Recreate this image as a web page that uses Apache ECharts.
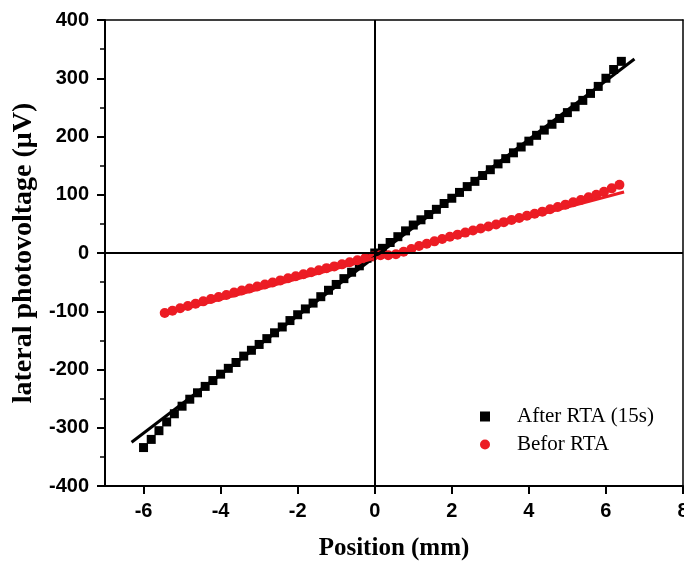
<!DOCTYPE html>
<html>
<head>
<meta charset="utf-8">
<script src="https://cdn.jsdelivr.net/npm/echarts@6/dist/echarts.min.js"></script>
<style>
  html, body { margin: 0; padding: 0; background: #fff; }
  #chart { width: 684px; height: 563px; }
</style>
</head>
<body>
<div id="chart"></div>
<script>
// After RTA (15s): positions (mm) and voltages (uV)
var afterX = [-6.0, -5.8, -5.6, -5.4, -5.2, -5.0, -4.8, -4.6, -4.4, -4.2, -4.0, -3.8, -3.6, -3.4, -3.2, -3.0,
              -2.8, -2.6, -2.4, -2.2, -2.0, -1.8, -1.6, -1.4, -1.2, -1.0, -0.8, -0.6, -0.4, -0.2, 0.0,
              0.2, 0.4, 0.6, 0.8, 1.0, 1.2, 1.4, 1.6, 1.8, 2.0, 2.2, 2.4, 2.6, 2.8, 3.0,
              3.2, 3.4, 3.6, 3.8, 4.0, 4.2, 4.4, 4.6, 4.8, 5.0, 5.2, 5.4, 5.6, 5.8, 6.0, 6.2, 6.4];
var afterY = [-334, -320, -305, -290, -276, -263, -251, -240, -229, -219, -208, -198, -188, -177, -167, -157,
              -147, -137, -127, -116, -106, -96, -86, -75, -64, -54, -44, -33, -22, -9, 0,
              8, 18, 28, 38, 48, 57, 66, 75, 85, 94, 104, 114, 123, 133, 143,
              153, 162, 172, 182, 192, 202, 211, 221, 231, 241, 251, 262, 274, 286, 300, 315, 329];

// Befor RTA
var beforX = [-5.45, -5.25, -5.05, -4.85, -4.65, -4.45, -4.25, -4.05, -3.85, -3.65, -3.45, -3.25, -3.05,
              -2.85, -2.65, -2.45, -2.25, -2.05, -1.85, -1.65, -1.45, -1.25, -1.05, -0.85, -0.65, -0.45,
              -0.25, -0.05, 0.15, 0.35, 0.55, 0.75, 0.95, 1.15, 1.35, 1.55, 1.75, 1.95, 2.15, 2.35,
              2.55, 2.75, 2.95, 3.15, 3.35, 3.55, 3.75, 3.95, 4.15, 4.35, 4.55, 4.75, 4.95, 5.15,
              5.35, 5.55, 5.75, 5.95, 6.15, 6.35];
var beforY = [-103, -99, -95, -91, -87, -83, -79, -75.5, -72, -68, -64.5, -61, -57.5,
              -54, -50.5, -47, -43.5, -40, -36.5, -33, -29.5, -26, -23, -19.5, -16, -12.5,
              -9, -6, -4, -4, -2, 2, 7, 12, 16, 20, 24, 28, 31.5, 35,
              38.5, 42, 45.5, 49, 53, 56.5, 60, 64, 67.5, 71, 75, 79, 83, 87,
              91, 95.5, 100, 105, 111, 117];

// linear fits (end points)
var fitAfterX = [-6.31, 6.74];
var fitAfterY = [-325, 333];
var fitBeforX = [-5.45, 6.47];
var fitBeforY = [-105, 104.6];

var xTicks = [-6, -4, -2, 0, 2, 4, 6, 8];

function pairs(xs, ys) {
    var out = [];
    for (var i = 0; i < xs.length; i++) out.push([xs[i], ys[i]]);
    return out;
}

var chart = echarts.init(document.getElementById('chart'), null, { renderer: 'canvas' });

var tickFont = { color: '#000', fontFamily: 'Liberation Sans', fontWeight: 'bold', fontSize: 20 };
var titleFont = { color: '#000', fontFamily: 'Liberation Serif', fontWeight: 'bold' };

var option = {
    backgroundColor: '#fff',
    animation: false,
    grid: { left: 105, right: 1, top: 20, bottom: 77, outerBoundsMode: 'none', containLabel: false },
    legend: {
        left: 475,
        top: 401,
        orient: 'vertical',
        itemGap: 7,
        itemWidth: 10,
        itemHeight: 10,
        textStyle: { fontFamily: 'Liberation Serif', fontSize: 21, color: '#000', padding: [0, 0, 0, 22] },
        data: [
            { name: 'After RTA (15s)', icon: 'rect' },
            { name: 'Befor RTA', icon: 'circle' }
        ]
    },
    xAxis: [{
        type: 'value',
        min: -7, max: 8, interval: 2,
        name: 'Position (mm)',
        nameLocation: 'middle',
        nameGap: 50,
        nameTextStyle: Object.assign({ fontSize: 25 }, titleFont),
        axisLine: { onZero: false, lineStyle: { color: '#000', width: 2 } },
        axisTick: { length: 8, lineStyle: { color: '#000', width: 2 }, customValues: xTicks },
        minorTick: { show: true, splitNumber: 2, length: 5, lineStyle: { color: '#000', width: 1.5 } },
        axisLabel: Object.assign({ margin: 15, customValues: xTicks }, tickFont),
        splitLine: { show: false }
    }, {
        type: 'value',
        position: 'top',
        min: -7, max: 8,
        axisLine: { onZero: false, lineStyle: { color: '#000', width: 1.5 } },
        axisTick: { show: false },
        axisLabel: { show: false },
        splitLine: { show: false }
    }],
    yAxis: [{
        type: 'value',
        min: -400, max: 400, interval: 100,
        name: 'lateral photovoltage (\u03bcV)',
        nameLocation: 'middle',
        nameGap: 59,
        nameTextStyle: Object.assign({ fontSize: 28 }, titleFont),
        axisLine: { onZero: false, lineStyle: { color: '#000', width: 2 } },
        axisTick: { length: 8, lineStyle: { color: '#000', width: 2 } },
        minorTick: { show: true, splitNumber: 2, length: 5, lineStyle: { color: '#000', width: 1.5 } },
        axisLabel: Object.assign({ margin: 16 }, tickFont),
        splitLine: { show: false }
    }, {
        type: 'value',
        position: 'right',
        min: -400, max: 400,
        axisLine: { onZero: false, lineStyle: { color: '#000', width: 1.5 } },
        axisTick: { show: false },
        axisLabel: { show: false },
        splitLine: { show: false }
    }],
    series: [
        {
            name: 'zero',
            type: 'line',
            data: [],
            silent: true,
            markLine: {
                silent: true,
                symbol: 'none',
                label: { show: false },
                lineStyle: { color: '#000', width: 2, type: 'solid' },
                data: [{ xAxis: 0 }, { yAxis: 0 }]
            }
        },
        {
            name: 'After RTA (15s)',
            type: 'scatter',
            symbol: 'rect',
            symbolSize: 9,
            itemStyle: { color: '#000', opacity: 1 },
            data: pairs(afterX, afterY)
        },
        {
            name: 'Befor RTA',
            type: 'scatter',
            symbol: 'circle',
            symbolSize: 10,
            itemStyle: { color: '#ec1c24', opacity: 1 },
            data: pairs(beforX, beforY)
        },
        {
            name: 'fitAfter',
            type: 'line',
            showSymbol: false,
            lineStyle: { color: '#000', width: 3 },
            data: pairs(fitAfterX, fitAfterY)
        },
        {
            name: 'fitBefor',
            type: 'line',
            showSymbol: false,
            lineStyle: { color: '#ec1c24', width: 3 },
            data: pairs(fitBeforX, fitBeforY)
        }
    ]
};

chart.setOption(option);
</script>
</body>
</html>
